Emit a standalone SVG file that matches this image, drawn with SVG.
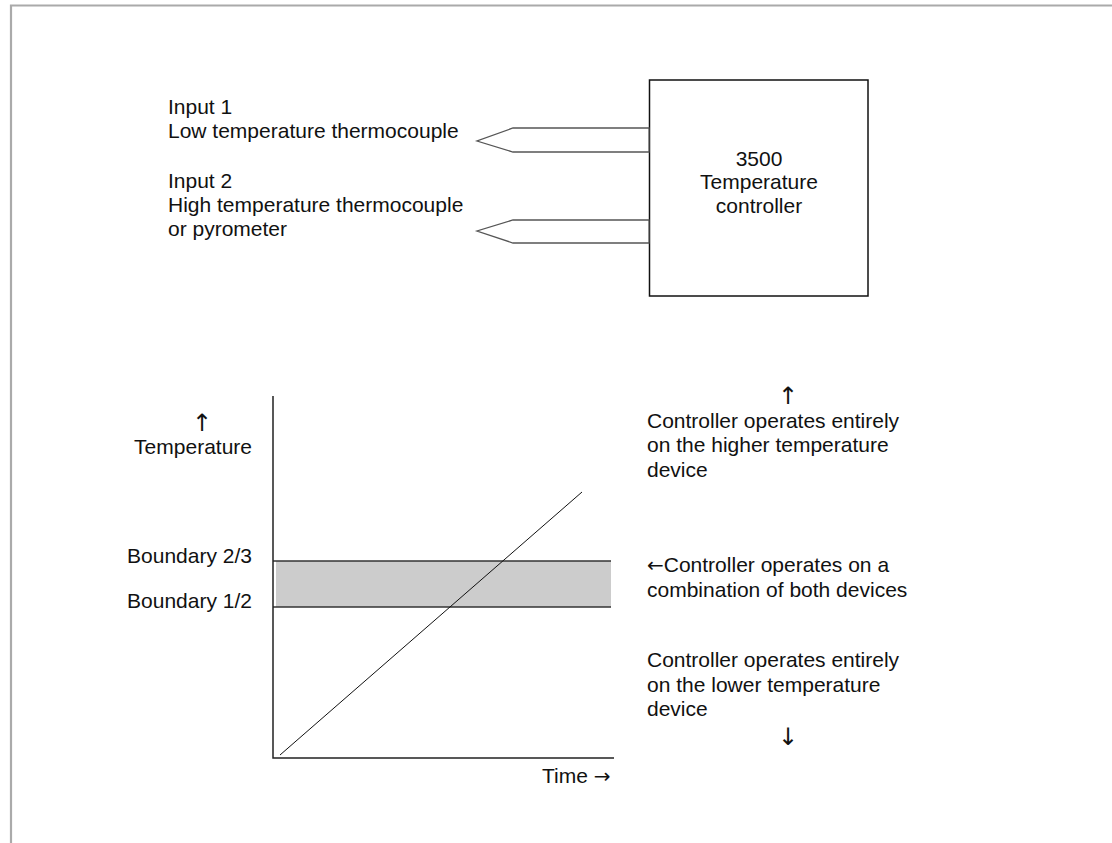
<svg xmlns="http://www.w3.org/2000/svg" width="1112" height="843" viewBox="0 0 1112 843">
<style>
text{font-family:"Liberation Sans",Arial,sans-serif;font-size:21px;fill:#111}
.arr{font-family:"DejaVu Sans",sans-serif;font-size:20px}
.varr{font-family:"DejaVu Sans",sans-serif;font-size:24px}
.mid{text-anchor:middle}
.end{text-anchor:end}
.probe{fill:#fff;stroke:#555;stroke-width:1.3}
.ax{stroke:#222;stroke-width:1.5;fill:none}
.bl{stroke:#333;stroke-width:1.3}
</style>
<rect width="1112" height="843" fill="#fff"/>
<path d="M11,843 V5.5 H1112" fill="none" stroke="#aaa" stroke-width="2.2"/>

<g id="controller">
<rect x="649.5" y="80" width="218.5" height="216" fill="#fff" stroke="#111" stroke-width="1.5"/>
<text class="mid" x="759" y="166">3500</text>
<text class="mid" x="759" y="189">Temperature</text>
<text class="mid" x="759" y="213">controller</text>
</g>

<g id="input1">
<text x="168" y="114">Input 1</text>
<text x="168" y="138">Low temperature thermocouple</text>
</g>
<g id="input2">
<text x="168" y="188">Input 2</text>
<text x="168" y="212">High temperature thermocouple</text>
<text x="168" y="236">or pyrometer</text>
</g>

<g id="connectors">
<polygon class="probe" points="649,128 513,128 477,141 513,152 649,152"/>
<polygon class="probe" points="649,220 513,220 477,231 513,243 649,243"/>
</g>

<g id="chart">
<rect x="276" y="561" width="335" height="46" fill="#ccc"/>
<line class="bl" x1="273" y1="561" x2="611" y2="561"/>
<line class="bl" x1="273" y1="607" x2="611" y2="607"/>
<path class="ax" d="M273,396 V758 H614"/>
<line x1="280" y1="755" x2="582" y2="492" stroke="#111" stroke-width="1"/>
<text class="mid varr" x="202" y="431">↑</text>
<text class="end" x="252" y="454">Temperature</text>
<text class="end" x="252" y="563">Boundary 2/3</text>
<text class="end" x="252" y="608">Boundary 1/2</text>
<text x="542" y="783">Time <tspan class="arr">→</tspan></text>
</g>

<g id="upper-zone">
<text class="mid varr" x="788" y="404">↑</text>
<text x="647" y="428">Controller operates entirely</text>
<text x="647" y="452">on the higher temperature</text>
<text x="647" y="477">device</text>
</g>
<g id="middle-zone">
<text x="647" y="572"><tspan class="arr">←</tspan>Controller operates on a</text>
<text x="647" y="597">combination of both devices</text>
</g>
<g id="lower-zone">
<text x="647" y="667">Controller operates entirely</text>
<text x="647" y="692">on the lower temperature</text>
<text x="647" y="716">device</text>
<text class="mid varr" x="788" y="745">↓</text>
</g>
</svg>
